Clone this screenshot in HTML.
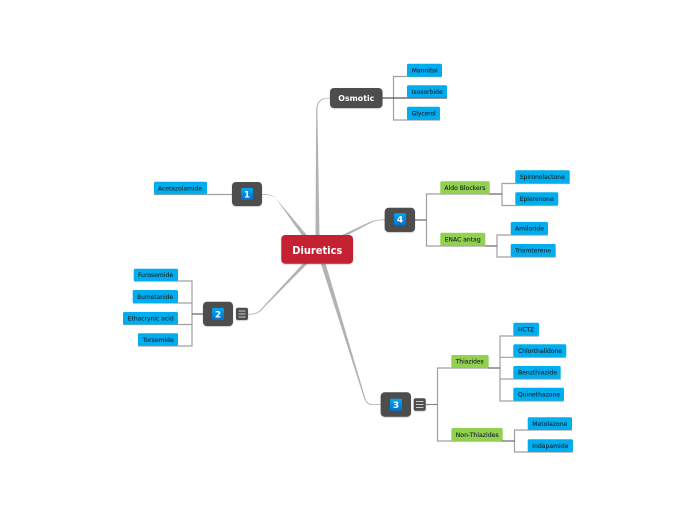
<!DOCTYPE html>
<html><head><meta charset="utf-8"><style>
html,body{margin:0;padding:0;background:#fff;width:697px;height:520px;overflow:hidden}
svg{display:block}
text{font-family:"DejaVu Sans",sans-serif;font-size:6.5px;fill:#16202a;stroke:#16202a;stroke-width:.12}
.b{fill:#00aeef}.g{fill:#92d050}.d{fill:#4d4d4d}
.l{stroke:#a0a0a0;stroke-width:1.2;fill:none}
.s{stroke:#666;stroke-width:1.2;fill:none}
text.w{fill:#fff;stroke:none;font-weight:bold}
</style></head><body>
<svg width="697" height="520" viewBox="0 0 697 520" xmlns="http://www.w3.org/2000/svg">
<defs>
<linearGradient id="bd" x1="0" y1="0" x2="0" y2="1"><stop offset="0" stop-color="#00a8f0"/><stop offset="1" stop-color="#0070d0"/></linearGradient>
<filter id="sh" x="-20%" y="-20%" width="140%" height="150%"><feDropShadow dx="0" dy="0.6" stdDeviation="0.6" flood-color="#000" flood-opacity="0.3"/></filter>
</defs>

<!-- root branches -->
<g fill="#b2b2b2">
<path d="M315.500 237 L316.200 110 Q316.200 97.600 329 97.600 H330 V98.400 H329 Q317.400 98.400 317.400 110 L319.500 237Z"/>
<path d="M306.700 235 L276.500 199 Q272 194.800 264 194.800 H262 V194 H264 Q272 194 276 198.500 L301.700 235Z"/>
<path d="M308 263 L262 309.500 Q258 314.600 250 314.600 H248 V313.800 H250 Q257 313.800 261 309 L303.500 263Z"/>
<path d="M342 235 L371 221.400 Q376 219.400 385 219.400 V220.200 Q377 220.200 372 222.300 L346 236Z"/>
<path d="M321 264 L364 398 Q366.500 405 372 405 H381 V404.200 H372 Q367 404 365.200 398 L325.700 264Z"/>
</g>

<!-- lines -->
<g class="l">
<path d="M154 194.500H232"/>
<path d="M134 281H192V346H138"/><path d="M133 303H192"/><path d="M123 324.500H192"/>
<path d="M407 76.500H393.500V120H440"/><path d="M407 76.500H442"/>
<path d="M440.500 194H426.500V246H485"/><path d="M440 194H490"/>
<path d="M515.500 183.500H502V205.500H558"/><path d="M515 183.500H570"/>
<path d="M511 235H497V257H556"/><path d="M511 235H548"/>
<path d="M451.500 368H437.500V441H503"/><path d="M451.500 368H489"/>
<path d="M513.500 336H500V401H564"/><path d="M513 336H539"/><path d="M500 357.300H566"/><path d="M500 379H561"/>
<path d="M528 430H514.500V452H573"/><path d="M528 430H572"/>
</g>
<g class="s">
<path d="M382 98H447" stroke="#555"/>
<path d="M192 314H203"/>
<path d="M415 220H426.500"/>
<path d="M489 194H502"/>
<path d="M485 246H497"/>
<path d="M488 368H500"/>
<path d="M426 404.500H437.500" stroke="#888"/>
<path d="M502 441H514.500"/>
</g>

<!-- root -->
<rect x="281.300" y="235" width="71.700" height="28.700" rx="4" fill="#c42033" filter="url(#sh)"/>
<text class="w" x="292.300" y="253.800" style="font-size:10.500px" textLength="50" lengthAdjust="spacingAndGlyphs">Diuretics</text>

<!-- main nodes -->
<g filter="url(#sh)">
<rect class="d" x="330" y="88" width="52.500" height="20" rx="4"/>
<rect class="d" x="232" y="182" width="30" height="24" rx="4"/>
<rect class="d" x="203" y="301.700" width="30" height="24.300" rx="4"/>
<rect class="d" x="384.700" y="207.700" width="30.300" height="24.300" rx="4"/>
<rect class="d" x="380.700" y="392.300" width="30.300" height="24.400" rx="4"/>
<rect class="d" x="236" y="307.700" width="12" height="12.300" rx="2"/>
<rect class="d" x="413.700" y="398.300" width="12" height="12.400" rx="2"/>
</g>
<g stroke="#ccc" stroke-width="1">
<path d="M238.500 311H245.500M238.500 314H245.500M238.500 317H245.500"/>
<path d="M416 401.500H423.500M416 404.500H423.500M416 407.500H423.500"/>
</g>
<text class="w" x="338.300" y="101" style="font-size:8.300px" textLength="36" lengthAdjust="spacingAndGlyphs">Osmotic</text>

<rect x="241" y="188" width="12" height="12" rx="1.500" fill="url(#bd)"/>
<rect x="212" y="308" width="12" height="12" rx="1.500" fill="url(#bd)"/>
<rect x="394" y="213.300" width="12" height="12" rx="1.500" fill="url(#bd)"/>
<rect x="390" y="398.700" width="12" height="12" rx="1.500" fill="url(#bd)"/>
<text class="w" x="247" y="197.300" text-anchor="middle" style="font-size:9px">1</text>
<text class="w" x="218" y="317.300" text-anchor="middle" style="font-size:9px">2</text>
<text class="w" x="400" y="222.700" text-anchor="middle" style="font-size:9px">4</text>
<text class="w" x="396" y="408" text-anchor="middle" style="font-size:9px">3</text>

<!-- blue boxes -->
<g class="b">
<rect x="154" y="181.700" width="53" height="12.600" rx="1.500"/>
<rect x="133.700" y="268.700" width="44.300" height="12.300" rx="1.500"/>
<rect x="132.700" y="290" width="45.300" height="13" rx="1.500"/>
<rect x="123" y="312" width="55" height="12.500" rx="1.500"/>
<rect x="138" y="333.300" width="40" height="12.400" rx="1.500"/>
<rect x="407" y="63.700" width="35" height="13" rx="1.500"/>
<rect x="407" y="85.300" width="40" height="12.400" rx="1.500"/>
<rect x="407" y="106.700" width="33" height="13.300" rx="1.500"/>
<rect x="515.300" y="170.300" width="54.400" height="13" rx="1.500"/>
<rect x="515.300" y="192.300" width="43" height="12.700" rx="1.500"/>
<rect x="510.700" y="222" width="37.300" height="12.700" rx="1.500"/>
<rect x="510.700" y="244" width="45" height="12.700" rx="1.500"/>
<rect x="513.300" y="322.700" width="25.700" height="13" rx="1.500"/>
<rect x="513.300" y="344.300" width="53" height="12.700" rx="1.500"/>
<rect x="513.300" y="366" width="47.400" height="12.700" rx="1.500"/>
<rect x="513.300" y="387.700" width="50.700" height="13" rx="1.500"/>
<rect x="527.700" y="417.300" width="44.300" height="12.700" rx="1.500"/>
<rect x="527.700" y="439.300" width="45.300" height="12.700" rx="1.500"/>
</g>
<g class="g">
<rect x="440.300" y="181.300" width="49.400" height="12.700" rx="1.500"/>
<rect x="440.300" y="232.700" width="45" height="13" rx="1.500"/>
<rect x="451.300" y="355" width="37.400" height="12.700" rx="1.500"/>
<rect x="451.300" y="428" width="51.400" height="13" rx="1.500"/>
</g>

<!-- labels -->
<g>
<text x="158" y="190.300" textLength="44" lengthAdjust="spacingAndGlyphs">Acetazolamide</text>
<text x="138" y="277.200" textLength="35" lengthAdjust="spacingAndGlyphs">Furosemide</text>
<text x="137" y="298.900" textLength="36" lengthAdjust="spacingAndGlyphs">Bumetanide</text>
<text x="127.700" y="320.600" textLength="46" lengthAdjust="spacingAndGlyphs">Ethacrynic acid</text>
<text x="142.700" y="341.800" textLength="31" lengthAdjust="spacingAndGlyphs">Torsemide</text>
<text x="411.700" y="72.500" textLength="26" lengthAdjust="spacingAndGlyphs">Mannitol</text>
<text x="411.700" y="93.800" textLength="31" lengthAdjust="spacingAndGlyphs">Isosorbide</text>
<text x="411.700" y="115.600" textLength="24" lengthAdjust="spacingAndGlyphs">Glycerol</text>
<text x="444.400" y="190" textLength="41" lengthAdjust="spacingAndGlyphs">Aldo Blockers</text>
<text x="444.700" y="241.500" textLength="36" lengthAdjust="spacingAndGlyphs">ENAC antag</text>
<text x="519.700" y="179.100" textLength="45" lengthAdjust="spacingAndGlyphs">Spironolactone</text>
<text x="519.700" y="201" textLength="34" lengthAdjust="spacingAndGlyphs">Eplerenone</text>
<text x="515" y="230.700" textLength="29" lengthAdjust="spacingAndGlyphs">Amiloride</text>
<text x="515" y="252.700" textLength="36" lengthAdjust="spacingAndGlyphs">Triamterene</text>
<text x="455.700" y="363.700" textLength="28" lengthAdjust="spacingAndGlyphs">Thiazides</text>
<text x="455.700" y="436.800" textLength="43" lengthAdjust="spacingAndGlyphs">Non-Thiazides</text>
<text x="518" y="331.500" textLength="16" lengthAdjust="spacingAndGlyphs">HCTZ</text>
<text x="518" y="353" textLength="44" lengthAdjust="spacingAndGlyphs">Chlorthalidone</text>
<text x="518" y="374.700" textLength="39" lengthAdjust="spacingAndGlyphs">Benzthiazide</text>
<text x="518" y="396.500" textLength="42" lengthAdjust="spacingAndGlyphs">Quinethazone</text>
<text x="532.300" y="426" textLength="35" lengthAdjust="spacingAndGlyphs">Metolazone</text>
<text x="532.300" y="448" textLength="36" lengthAdjust="spacingAndGlyphs">Indapamide</text>
</g>
</svg>
</body></html>
